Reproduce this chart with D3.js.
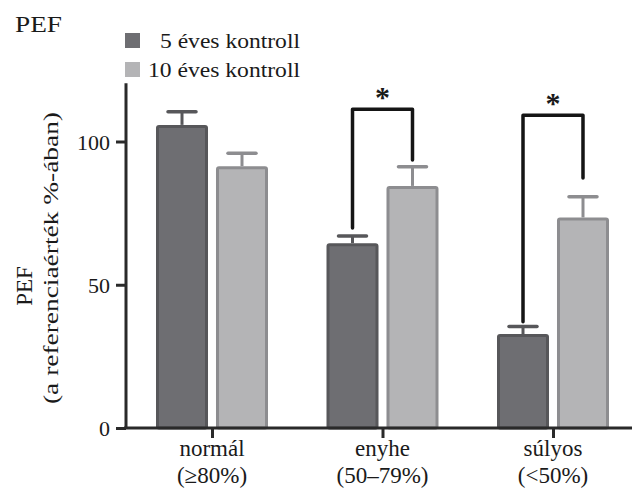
<!DOCTYPE html>
<html><head><meta charset="utf-8">
<script src="https://cdn.jsdelivr.net/npm/d3@7"></script>
<style>body{margin:0;background:#fff;} text{font-family:"Liberation Serif","Times New Roman",serif;fill:#1a1a1a;}</style>
</head><body>
<svg id="c" width="632" height="488"></svg>
<script>
const categories = ["normál", "enyhe", "súlyos"];
const categorySub = ["(≥80%)", "(50–79%)", "(<50%)"];
const series = ["5 éves kontroll", "10 éves kontroll"];
const values5 = [105.8, 64.5, 32.8];
const err5 = [4.6, 2.5, 2.6];
const values10 = [91.4, 84.5, 73.5];
const err10 = [4.5, 6.7, 7.2];
const yTicks = [0, 50, 100];
// significance brackets: [category, topValue, leftBottom, rightBottom]
const brackets = [["enyhe", 111.3, 69.8, 93.5], ["súlyos", 109.2, 37.1, 87.3]];

const svg = d3.select("#c");
const y = d3.scaleLinear().domain([0, 120]).range([428, 84.2]);
const xc = d3.scalePoint().domain(categories).range([212, 553]);
const xs = d3.scaleBand().domain(series).range([-56, 56]).paddingInner(0.133);
const fills = ["#6e6e72", "#b4b4b6"];
const strokes = ["#57575a", "#8d8d90"];
const data = [values5, values10];
const errs = [err5, err10];

// bars
series.forEach((s, si) => {
  categories.forEach((c, ci) => {
    const x0 = xc(c) + xs(s);
    const w = xs.bandwidth();
    const v = data[si][ci];
    const e = errs[si][ci];
    const cx = x0 + w / 2;
    svg.append("line").attr("x1", cx).attr("x2", cx)
      .attr("y1", y(v)).attr("y2", y(v + e))
      .attr("stroke", strokes[si]).attr("stroke-width", 3);
    svg.append("line").attr("x1", cx - 14).attr("x2", cx + 14)
      .attr("y1", y(v + e)).attr("y2", y(v + e))
      .attr("stroke", strokes[si]).attr("stroke-width", 3.5).attr("stroke-linecap", "round");
    svg.append("rect").attr("x", x0 + 1.5).attr("y", y(v) + 1.5)
      .attr("width", w - 3).attr("height", y(0) - y(v) - 1.5)
      .attr("rx", 1.5)
      .attr("fill", fills[si]).attr("stroke", strokes[si]).attr("stroke-width", 3);
  });
});

// brackets
brackets.forEach(([c, top, lb, rb]) => {
  const lx = xc(c) + xs(series[0]) + xs.bandwidth() / 2;
  const rx = xc(c) + xs(series[1]) + xs.bandwidth() / 2;
  svg.append("path")
    .attr("d", `M${lx},${y(lb)}V${y(top)}H${rx}V${y(rb)}`)
    .attr("fill", "none").attr("stroke", "#151515").attr("stroke-width", 3.5)
    .attr("stroke-linejoin", "round").attr("stroke-linecap", "round");
  svg.append("text").attr("x", (lx + rx) / 2).attr("y", y(top) - 2)
    .attr("text-anchor", "middle").attr("font-size", 30).attr("font-weight", "bold")
    .text("*");
});

// y axis
const yAxis = d3.axisLeft(y).tickValues(yTicks).tickSize(10).tickPadding(6).tickFormat(d3.format("d"));
const gy = svg.append("g").attr("transform", "translate(126,0)").call(yAxis);
gy.select(".domain").attr("d", `M0,${y(0)}V${y(120) - 1}`).attr("stroke", "#2a2a2a").attr("stroke-width", 3);
gy.selectAll(".tick line").attr("stroke", "#2a2a2a").attr("stroke-width", 3);
gy.selectAll(".tick text").attr("font-size", 22).attr("fill", "#1a1a1a")
  .attr("font-family", "Liberation Serif, serif").attr("dy", "0.36em");

// x axis
const gx = svg.append("g").attr("transform", `translate(0,${y(0)})`)
  .call(d3.axisBottom(xc).tickSize(10).tickFormat(""));
gx.select(".domain").attr("d", "M124,0H632").attr("stroke", "#2a2a2a").attr("stroke-width", 3);
gx.selectAll(".tick line").attr("stroke", "#2a2a2a").attr("stroke-width", 3);

categories.forEach((c, i) => {
  svg.append("text").attr("x", xc(c)).attr("y", 456).attr("text-anchor", "middle")
    .attr("font-size", 23).text(c);
  svg.append("text").attr("x", xc(c)).attr("y", 483).attr("text-anchor", "middle")
    .attr("font-size", 23).text(categorySub[i]);
});

// y label
svg.append("text").attr("transform", "translate(32,286) rotate(-90)")
  .attr("text-anchor", "middle").attr("font-size", 23).text("PEF");
svg.append("text").attr("transform", "translate(58,258) rotate(-90)")
  .attr("text-anchor", "middle").attr("font-size", 22)
  .attr("textLength", 292).attr("lengthAdjust", "spacingAndGlyphs")
  .text("(a referenciaérték %-ában)");

// title
svg.append("text").attr("x", 15).attr("y", 31.5).attr("font-size", 24)
  .attr("textLength", 47).attr("lengthAdjust", "spacingAndGlyphs").text("PEF");

// legend
const legY = [33, 62];
series.forEach((s, i) => {
  svg.append("rect").attr("x", 125).attr("y", legY[i]).attr("width", 15).attr("height", 15)
    .attr("fill", fills[i]);
  svg.append("text").attr("x", i === 0 ? 160 : 148).attr("y", legY[i] + 15)
    .attr("font-size", 22)
    .attr("textLength", i === 0 ? 140 : 152).attr("lengthAdjust", "spacingAndGlyphs")
    .text(i === 0 ? s.replace(/^5 /, "5 ") : s);
});
</script>
</body></html>
